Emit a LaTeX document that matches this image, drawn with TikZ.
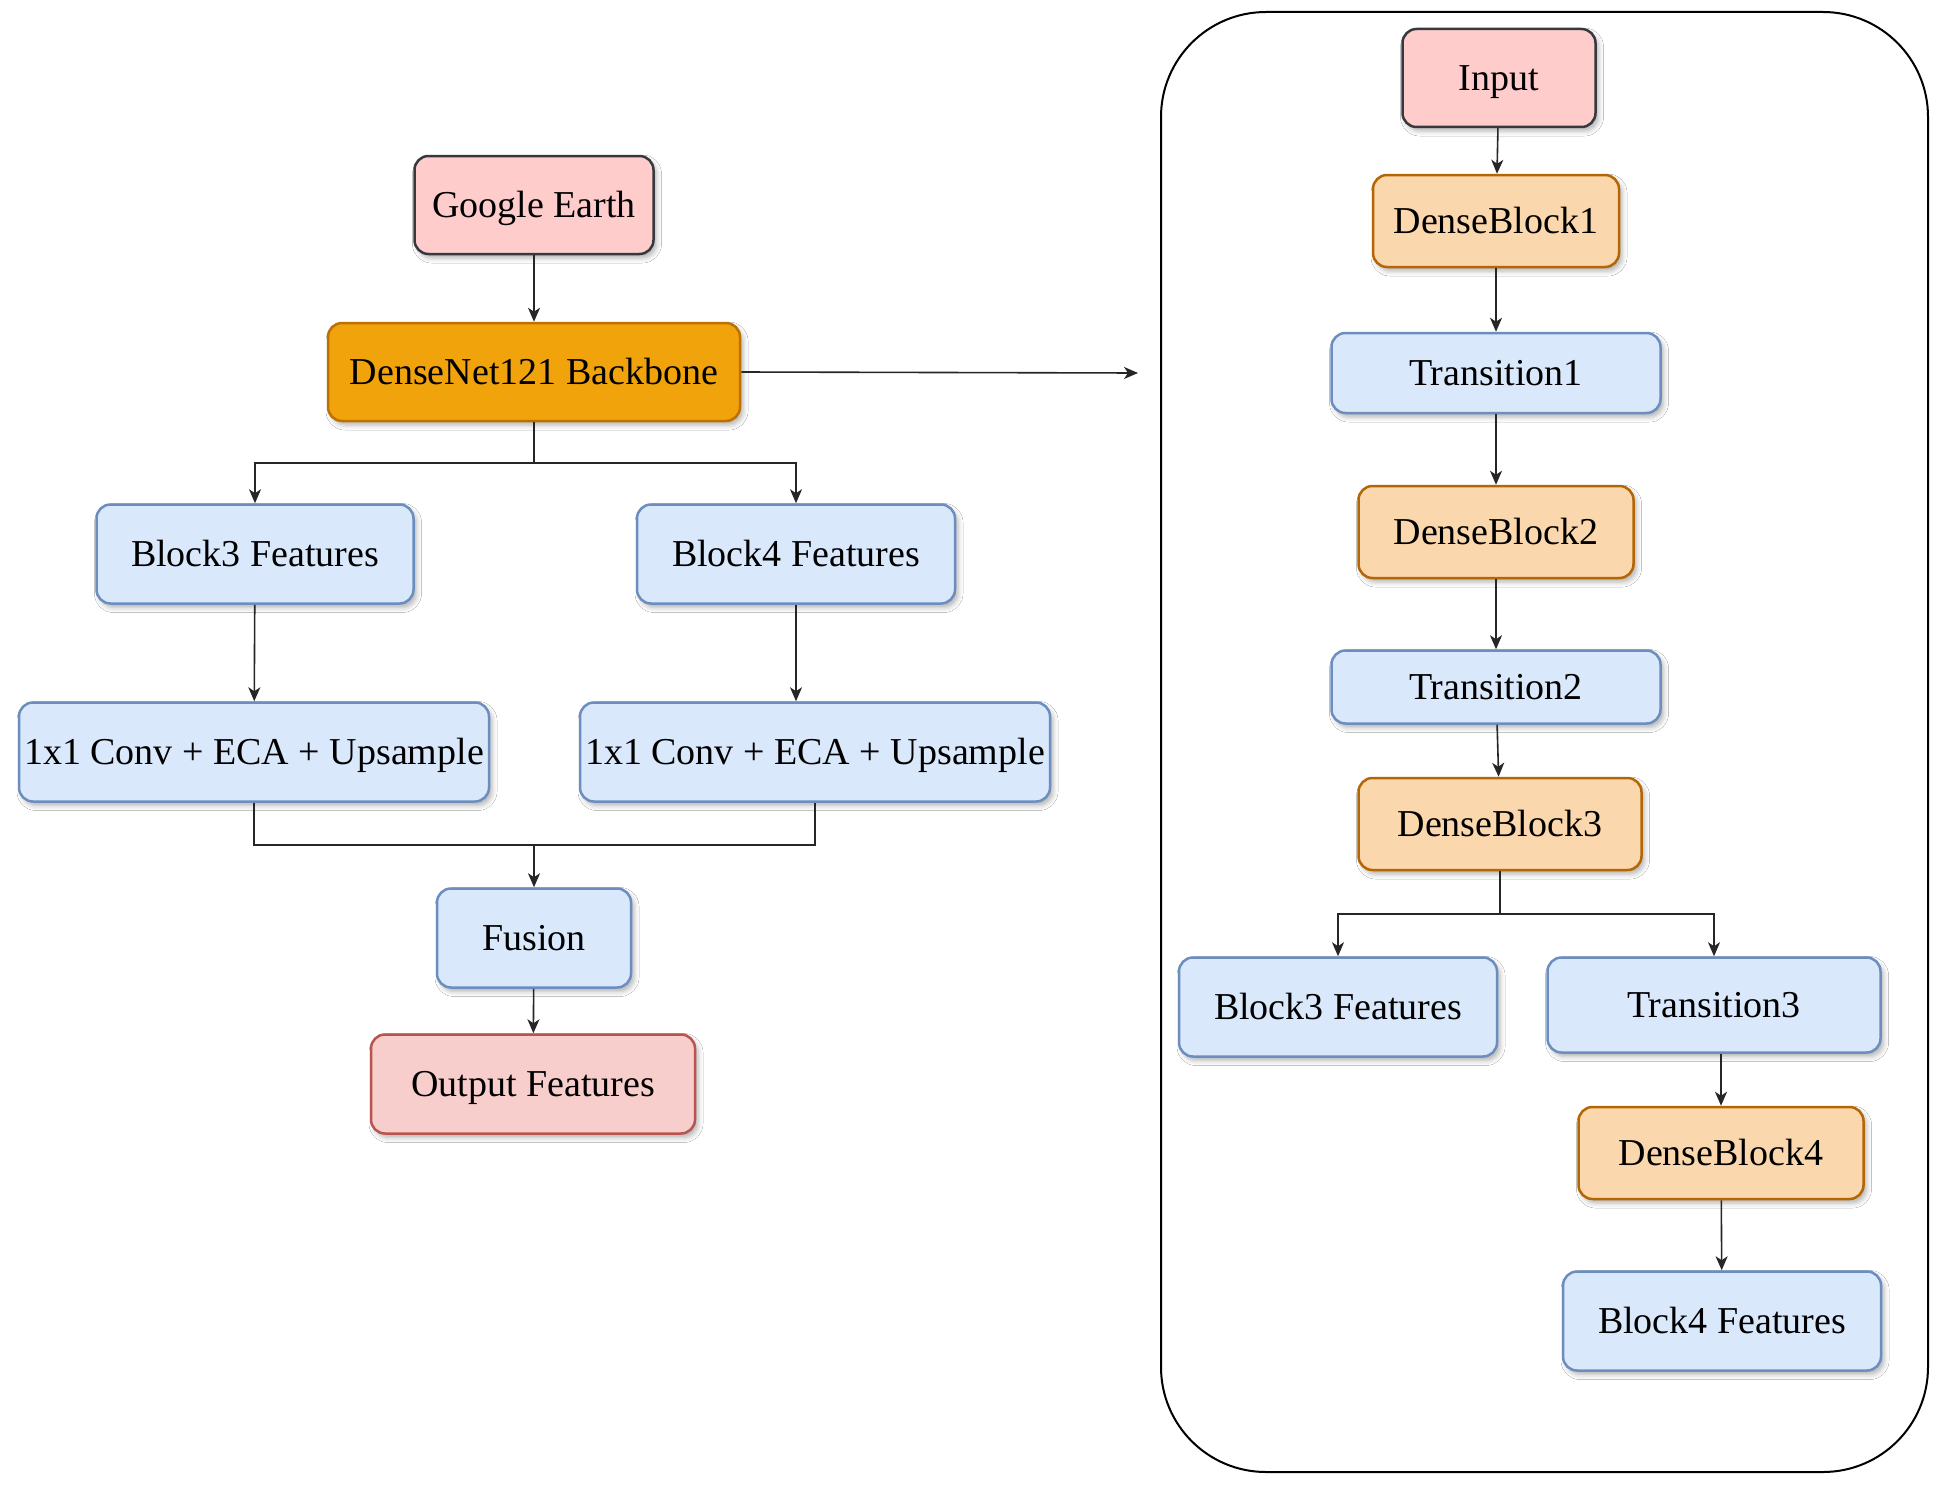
\documentclass[tikz,border=0pt]{standalone}
\usepackage{fontspec}
\setmainfont{Liberation Serif}
\usetikzlibrary{arrows.meta,shadows.blur}
\definecolor{pinkF}{HTML}{FFCCCC}
\definecolor{pinkD}{HTML}{36393D}
\definecolor{orgF}{HTML}{F0A30A}
\definecolor{orgD}{HTML}{BD7000}
\definecolor{lorgF}{HTML}{FAD7AC}
\definecolor{lorgD}{HTML}{B46504}
\definecolor{bluF}{HTML}{DAE8FC}
\definecolor{bluD}{HTML}{6C8EBF}
\definecolor{redF}{HTML}{F8CECC}
\definecolor{redD}{HTML}{B85450}
\tikzset{
  box/.style={rounded corners=14pt, line width=2.5pt, align=center, inner sep=0pt,
    text height=25pt, text depth=0pt, font=\fontsize{38}{44}\selectfont,
    blur shadow={shadow xshift=3pt, shadow yshift=-4pt, shadow blur radius=5pt, shadow opacity=30}},
  pinkbox/.style={box, fill=pinkF, draw=pinkD},
  orgbox/.style={box, fill=orgF, draw=orgD},
  lorgbox/.style={box, fill=lorgF, draw=lorgD},
  blubox/.style={box, fill=bluF, draw=bluD},
  redbox/.style={box, fill=redF, draw=redD},
  conn/.style={line width=1.6pt, draw=black!85},
  arr/.style={conn, -{Stealth[length=14pt, width=12pt, inset=4pt]}},
}
\begin{document}
\begin{tikzpicture}[x=1pt, y=-1pt]
\useasboundingbox (0,0) rectangle (1940,1485);
\fill[white] (0,0) rectangle (1940,1485);

% container
\draw[line width=2pt, rounded corners=105pt] (1161,12) rectangle (1928,1472);

% left column
\node[pinkbox, minimum width=239pt, minimum height=98pt] (ge) at (534,205) {Google Earth};
\node[orgbox, minimum width=412pt, minimum height=98pt] (dn) at (534,372) {DenseNet121 Backbone};
\node[blubox, minimum width=317pt, minimum height=99pt] (b3) at (255,554) {Block3 Features};
\node[blubox, minimum width=318pt, minimum height=99pt] (b4) at (796,554) {Block4 Features};
\node[blubox, minimum width=470pt, minimum height=99pt] (c1) at (254,752) {1x1 Conv + ECA + Upsample};
\node[blubox, minimum width=470pt, minimum height=99pt] (c2) at (815,752) {1x1 Conv + ECA + Upsample};
\node[blubox, minimum width=194pt, minimum height=99pt] (fu) at (534,938) {Fusion};
\node[redbox, minimum width=324pt, minimum height=99pt] (out) at (533,1084) {Output Features};

% right column
\node[pinkbox, minimum width=193pt, minimum height=98pt] (in) at (1499,78) {Input};
\node[lorgbox, minimum width=246pt, minimum height=92pt] (db1) at (1496,221) {DenseBlock1};
\node[blubox, minimum width=329pt, minimum height=80pt] (t1) at (1496,373) {Transition1};
\node[lorgbox, minimum width=275pt, minimum height=92pt] (db2) at (1496,532) {DenseBlock2};
\node[blubox, minimum width=329pt, minimum height=73pt] (t2) at (1496,687) {Transition2};
\node[lorgbox, minimum width=283pt, minimum height=92pt] (db3) at (1500,824) {DenseBlock3};
\node[blubox, minimum width=318pt, minimum height=99pt] (rb3) at (1338,1007) {Block3 Features};
\node[blubox, minimum width=333pt, minimum height=95pt] (t3) at (1714,1005) {Transition3};
\node[lorgbox, minimum width=285pt, minimum height=92pt] (db4) at (1721,1153) {DenseBlock4};
\node[blubox, minimum width=318pt, minimum height=99pt] (rb4) at (1722,1321) {Block4 Features};

% left connectors
\draw[arr] (ge) -- (dn);
\coordinate (dnend) at (1138,373);
\draw[arr] (dn.east) -- (dnend);
\coordinate (s1) at (534,463);
\draw[conn] (dn.south) -- (s1);
\draw[arr] (s1) -| (b3);
\draw[arr] (s1) -| (b4);
\draw[arr] (b3) -- (c1);
\draw[arr] (b4.south) -- (b4.south |- c2.north);
\coordinate (m1) at (534,845);
\draw[conn] (c1.south) |- (m1);
\draw[conn] (c2.south) |- (m1);
\draw[arr] (m1) -- (fu);
\draw[arr] (fu) -- (out);

% right connectors
\draw[arr] (in) -- (db1);
\draw[arr] (db1) -- (t1);
\draw[arr] (t1) -- (db2);
\draw[arr] (db2) -- (t2);
\draw[arr] (t2) -- (db3);
\coordinate (s2) at (1500,914);
\draw[conn] (db3.south) -- (s2);
\draw[arr] (s2) -| (rb3);
\draw[arr] (s2) -| (t3);
\draw[arr] (db4.north |- t3.south) -- (db4.north);
\draw[arr] (db4) -- (rb4);
\end{tikzpicture}
\end{document}
